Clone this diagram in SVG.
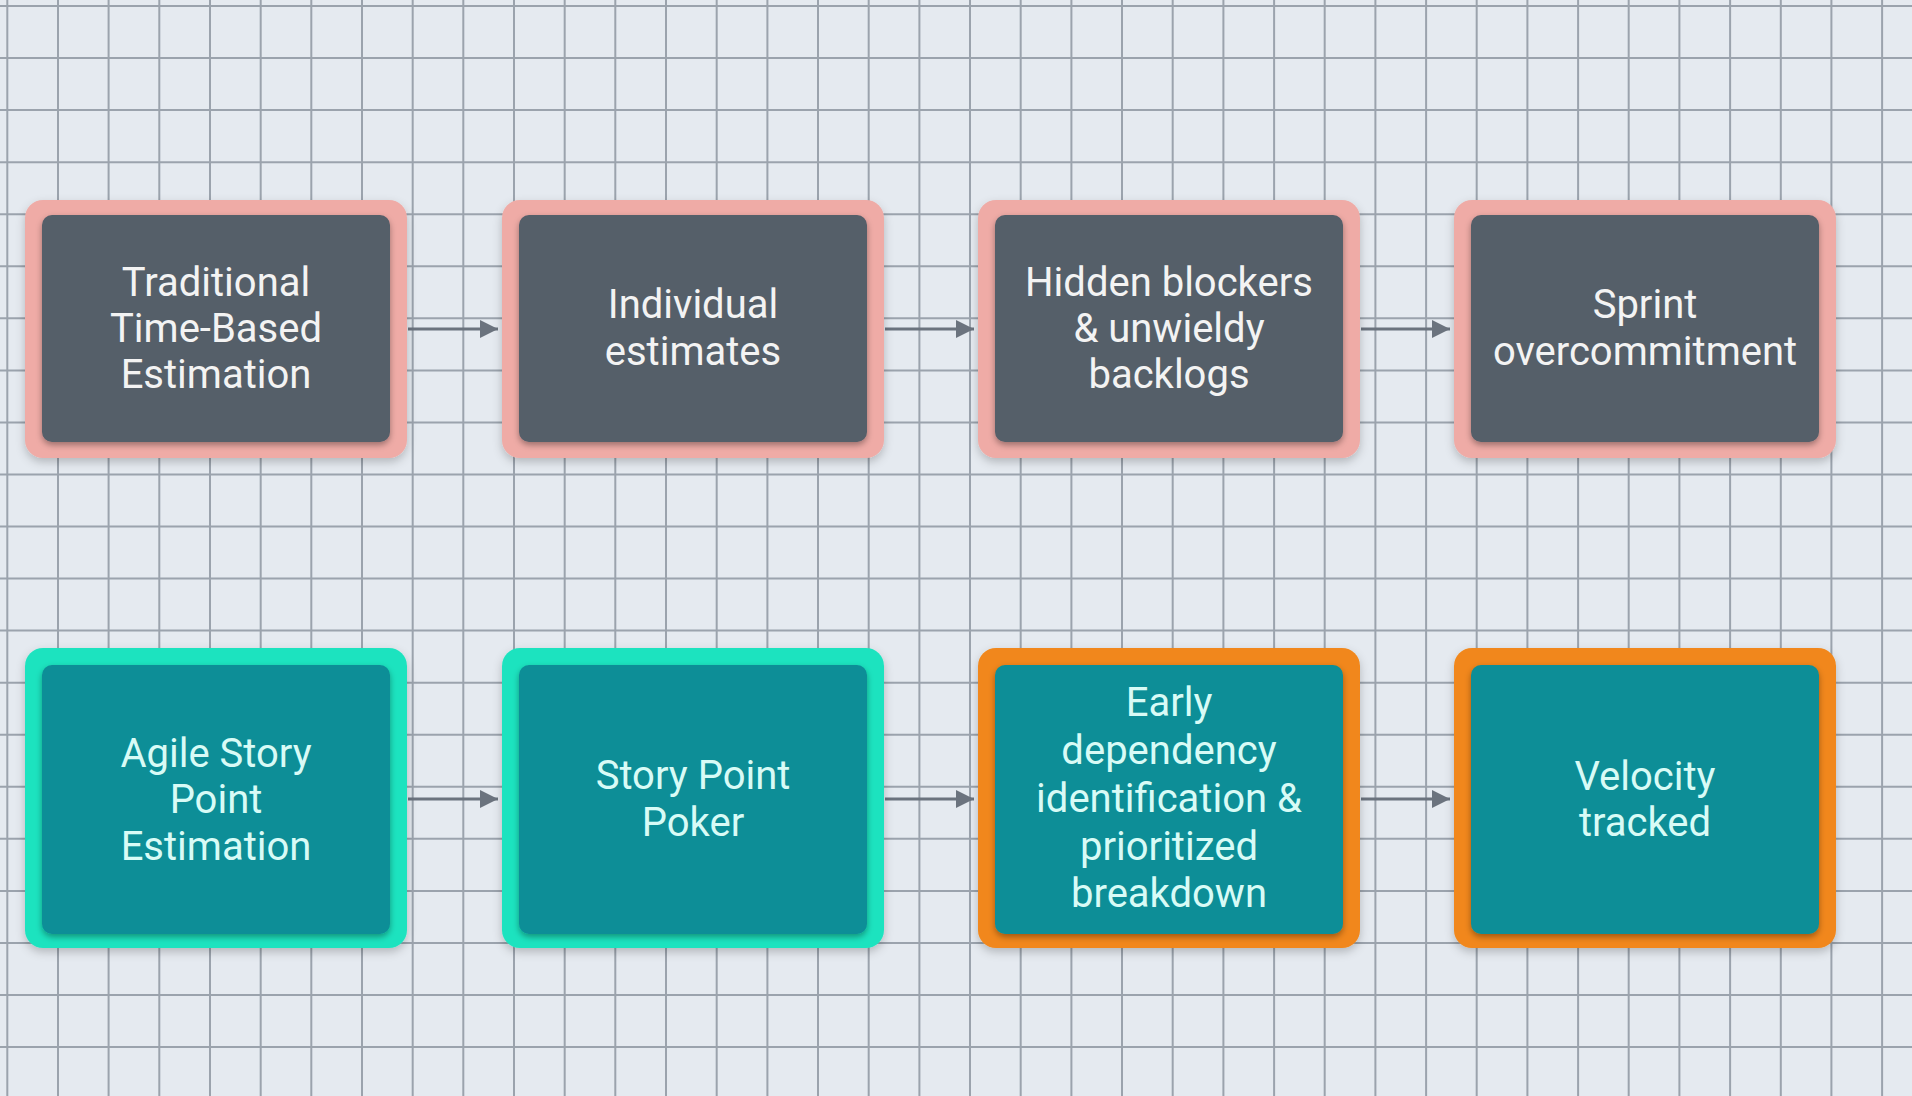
<svg xmlns="http://www.w3.org/2000/svg" width="1912" height="1096" viewBox="0 0 1912 1096">
  <defs>
    <filter id="shOuter" x="-10%" y="-10%" width="120%" height="125%">
      <feDropShadow dx="0" dy="4" stdDeviation="5" flood-color="#000" flood-opacity="0.22"/>
    </filter>
    <filter id="shInner" x="-10%" y="-10%" width="120%" height="125%">
      <feDropShadow dx="0" dy="3" stdDeviation="3" flood-color="#000" flood-opacity="0.35"/>
    </filter>
    <marker id="arr" markerUnits="userSpaceOnUse" markerWidth="18" markerHeight="18" refX="18" refY="9" orient="auto">
      <path d="M0,0 L18,9 L0,18 z" fill="#6b737e"/>
    </marker>
    <style>
      .bg { fill: #e5eaf0; }
      .grid { stroke: #8e96a1; stroke-width: 2; fill: none; opacity: 0.85; }
      .outer { filter: url(#shOuter); }
      .pink { fill: #efaba6; }
      .green { fill: #1ee3bf; }
      .orange { fill: #f1871a; }
      .inner { filter: url(#shInner); }
      .dark { fill: #555e69; }
      .teal { fill: #0b8e97; }
      .lbl { font-family: Roboto, "Liberation Sans", sans-serif; font-size: 40px; text-anchor: middle; }
      .lt { fill: #f3f3f3; }
      .lc { fill: #d8fbf6; }
      .conn { stroke: #6b737e; stroke-width: 3; fill: none; marker-end: url(#arr); }
    </style>
  </defs>
  <rect class="bg" x="0" y="0" width="1912" height="1096"/>
  <path class="grid" d="M7.3,0V1096 M58,0V1096 M108.6,0V1096 M159.3,0V1096 M210,0V1096 M260.7,0V1096 M311.3,0V1096 M362,0V1096 M412.7,0V1096 M463.3,0V1096 M514,0V1096 M564.7,0V1096 M615.3,0V1096 M666,0V1096 M716.7,0V1096 M767.4,0V1096 M818,0V1096 M868.7,0V1096 M919.4,0V1096 M970,0V1096 M1020.7,0V1096 M1071.4,0V1096 M1122,0V1096 M1172.7,0V1096 M1223.4,0V1096 M1274.1,0V1096 M1324.7,0V1096 M1375.4,0V1096 M1426.1,0V1096 M1476.7,0V1096 M1527.4,0V1096 M1578.1,0V1096 M1628.7,0V1096 M1679.4,0V1096 M1730.1,0V1096 M1780.8,0V1096 M1831.4,0V1096 M1882.1,0V1096 M0,6H1912 M0,58H1912 M0,110.1H1912 M0,162.2H1912 M0,214.2H1912 M0,266.3H1912 M0,318.3H1912 M0,370.4H1912 M0,422.4H1912 M0,474.5H1912 M0,526.5H1912 M0,578.6H1912 M0,630.6H1912 M0,682.7H1912 M0,734.7H1912 M0,786.8H1912 M0,838.8H1912 M0,890.9H1912 M0,942.9H1912 M0,995H1912 M0,1047H1912"/>

  <g id="connectors">
    <line class="conn" x1="408" y1="329" x2="498" y2="329"/>
    <line class="conn" x1="885" y1="329" x2="974" y2="329"/>
    <line class="conn" x1="1361" y1="329" x2="1450" y2="329"/>
    <line class="conn" x1="408" y1="799" x2="498" y2="799"/>
    <line class="conn" x1="885" y1="799" x2="974" y2="799"/>
    <line class="conn" x1="1361" y1="799" x2="1450" y2="799"/>
  </g>

  <g id="node-traditional">
    <rect class="outer pink" x="25" y="200" width="382" height="258" rx="18"/>
    <rect class="inner dark" x="42" y="215" width="348" height="227" rx="10"/>
    <text class="lbl lt" x="216"><tspan x="216" y="296">Traditional</tspan><tspan x="216" y="342">Time-Based</tspan><tspan x="216" y="388">Estimation</tspan></text>
  </g>
  <g id="node-individual">
    <rect class="outer pink" x="502" y="200" width="382" height="258" rx="18"/>
    <rect class="inner dark" x="519" y="215" width="348" height="227" rx="10"/>
    <text class="lbl lt" x="693"><tspan x="693" y="318">Individual</tspan><tspan x="693" y="365">estimates</tspan></text>
  </g>
  <g id="node-hidden">
    <rect class="outer pink" x="978" y="200" width="382" height="258" rx="18"/>
    <rect class="inner dark" x="995" y="215" width="348" height="227" rx="10"/>
    <text class="lbl lt" x="1169"><tspan x="1169" y="296">Hidden blockers</tspan><tspan x="1169" y="342">&amp; unwieldy</tspan><tspan x="1169" y="388">backlogs</tspan></text>
  </g>
  <g id="node-sprint">
    <rect class="outer pink" x="1454" y="200" width="382" height="258" rx="18"/>
    <rect class="inner dark" x="1471" y="215" width="348" height="227" rx="10"/>
    <text class="lbl lt" x="1645"><tspan x="1645" y="318">Sprint</tspan><tspan x="1645" y="365">overcommitment</tspan></text>
  </g>

  <g id="node-agile">
    <rect class="outer green" x="25" y="648" width="382" height="300" rx="18"/>
    <rect class="inner teal" x="42" y="665" width="348" height="269" rx="10"/>
    <text class="lbl lc" x="216"><tspan x="216" y="767">Agile Story</tspan><tspan x="216" y="813">Point</tspan><tspan x="216" y="860">Estimation</tspan></text>
  </g>
  <g id="node-poker">
    <rect class="outer green" x="502" y="648" width="382" height="300" rx="18"/>
    <rect class="inner teal" x="519" y="665" width="348" height="269" rx="10"/>
    <text class="lbl lc" x="693"><tspan x="693" y="789">Story Point</tspan><tspan x="693" y="836">Poker</tspan></text>
  </g>
  <g id="node-early">
    <rect class="outer orange" x="978" y="648" width="382" height="300" rx="18"/>
    <rect class="inner teal" x="995" y="665" width="348" height="269" rx="10"/>
    <text class="lbl lc" x="1169"><tspan x="1169" y="716">Early</tspan><tspan x="1169" y="764">dependency</tspan><tspan x="1169" y="812">identification &amp;</tspan><tspan x="1169" y="860">prioritized</tspan><tspan x="1169" y="907">breakdown</tspan></text>
  </g>
  <g id="node-velocity">
    <rect class="outer orange" x="1454" y="648" width="382" height="300" rx="18"/>
    <rect class="inner teal" x="1471" y="665" width="348" height="269" rx="10"/>
    <text class="lbl lc" x="1645"><tspan x="1645" y="790">Velocity</tspan><tspan x="1645" y="836">tracked</tspan></text>
  </g>
</svg>
